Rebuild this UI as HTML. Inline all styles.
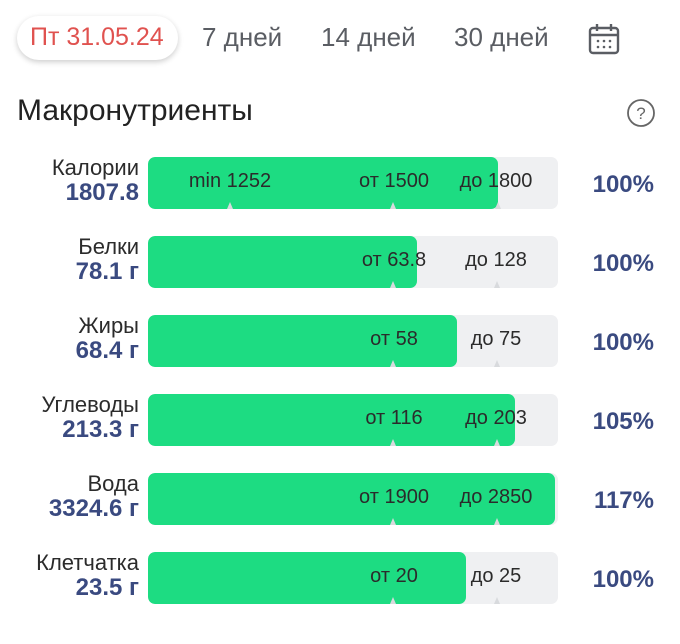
<!DOCTYPE html>
<html><head><meta charset="utf-8"><style>
body{margin:0;width:680px;height:644px;background:#fff;font-family:"Liberation Sans","DejaVu Sans",sans-serif;position:relative;overflow:hidden}
.a{position:absolute;white-space:nowrap}
.pill{left:17px;top:16px;width:161px;height:44px;border-radius:22px;background:#fff;box-shadow:0 2px 6px rgba(0,0,0,.2);}
.tab{top:22px;font-size:26px;color:#5a5d63}
.name{right:541px;font-size:22px;color:#2b2b2b;text-align:right}
.val{right:541px;font-size:24px;color:#3a4a80;font-weight:bold;text-align:right}
.bar{left:148px;width:410px;height:52px;border-radius:7px;background:#eff0f2;overflow:hidden}
.g{position:absolute;left:0;top:0;height:52px;background:#1ddc82;border-radius:7px}
.lb{position:absolute;top:13px;font-size:20px;color:#2b2b2b;transform:translateX(-50%)}
.tk{position:absolute;bottom:0;width:0;height:0;border-left:3px solid transparent;border-right:3px solid transparent;border-bottom:7px solid #d8dadd;transform:translateX(-50%)}
.pct{right:26px;font-size:24px;color:#3a4a80;font-weight:bold}
</style></head><body>
<div class="a pill"></div>
<div class="a tab" style="left:30px;top:23px;font-size:25px;color:#e0524f">Пт 31.05.24</div>
<div class="a tab" style="left:202px">7 дней</div>
<div class="a tab" style="left:321px">14 дней</div>
<div class="a tab" style="left:454px">30 дней</div>
<svg class="a" style="left:587px;top:22px" width="34" height="34" viewBox="0 0 34 34" fill="none" stroke="#5a5d63" stroke-width="2.4"><rect x="3" y="6" width="28" height="25" rx="3"/><line x1="3" y1="13" x2="31" y2="13"/><line x1="10" y1="2" x2="10" y2="9"/><line x1="24" y1="2" x2="24" y2="9"/><g fill="#5a5d63" stroke="none"><circle cx="11" cy="19" r="1.3"/><circle cx="17" cy="19" r="1.3"/><circle cx="23" cy="19" r="1.3"/><circle cx="11" cy="25" r="1.3"/><circle cx="17" cy="25" r="1.3"/><circle cx="23" cy="25" r="1.3"/></g></svg>
<div class="a" style="left:17px;top:94px;font-size:30px;color:#222">Макронутриенты</div>
<svg class="a" style="left:626px;top:98px" width="30" height="30"><circle cx="15" cy="15" r="13" fill="none" stroke="#666" stroke-width="1.8"/><text x="15" y="21" text-anchor="middle" font-size="17" fill="#666" font-family="Liberation Sans">?</text></svg>

<div class="a name" style="top:155px">Калории</div><div class="a val" style="top:179px">1807.8</div>
<div class="a bar" style="top:157px"><div class="g" style="width:350px"></div><div class="tk" style="left:82px"></div><div class="tk" style="left:245px"></div><div class="tk" style="left:350px"></div><div class="lb" style="left:82px">min 1252</div><div class="lb" style="left:246px">от 1500</div><div class="lb" style="left:348px">до 1800</div></div><div class="a pct" style="top:171px">100%</div>

<div class="a name" style="top:234px">Белки</div><div class="a val" style="top:258px">78.1 г</div>
<div class="a bar" style="top:236px"><div class="g" style="width:269px"></div><div class="tk" style="left:245px"></div><div class="tk" style="left:349px"></div><div class="lb" style="left:246px">от 63.8</div><div class="lb" style="left:348px">до 128</div></div><div class="a pct" style="top:250px">100%</div>

<div class="a name" style="top:313px">Жиры</div><div class="a val" style="top:337px">68.4 г</div>
<div class="a bar" style="top:315px"><div class="g" style="width:309px"></div><div class="tk" style="left:245px"></div><div class="tk" style="left:349px"></div><div class="lb" style="left:246px">от 58</div><div class="lb" style="left:348px">до 75</div></div><div class="a pct" style="top:329px">100%</div>

<div class="a name" style="top:392px">Углеводы</div><div class="a val" style="top:416px">213.3 г</div>
<div class="a bar" style="top:394px"><div class="g" style="width:367px"></div><div class="tk" style="left:245px"></div><div class="tk" style="left:349px"></div><div class="lb" style="left:246px">от 116</div><div class="lb" style="left:348px">до 203</div></div><div class="a pct" style="top:408px">105%</div>

<div class="a name" style="top:471px">Вода</div><div class="a val" style="top:495px">3324.6 г</div>
<div class="a bar" style="top:473px"><div class="g" style="width:407px"></div><div class="tk" style="left:245px"></div><div class="tk" style="left:349px"></div><div class="lb" style="left:246px">от 1900</div><div class="lb" style="left:348px">до 2850</div></div><div class="a pct" style="top:487px">117%</div>

<div class="a name" style="top:550px">Клетчатка</div><div class="a val" style="top:574px">23.5 г</div>
<div class="a bar" style="top:552px"><div class="g" style="width:318px"></div><div class="tk" style="left:245px"></div><div class="tk" style="left:349px"></div><div class="lb" style="left:246px">от 20</div><div class="lb" style="left:348px">до 25</div></div><div class="a pct" style="top:566px">100%</div>
</body></html>
